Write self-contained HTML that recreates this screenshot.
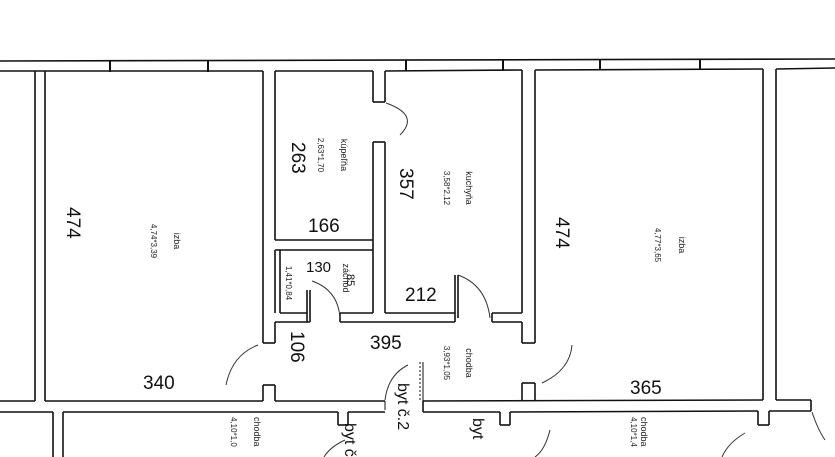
<!DOCTYPE html>
<html><head><meta charset="utf-8"><style>
html,body{margin:0;padding:0;background:#fff;}
svg{display:block}
.t{font-family:"Liberation Sans",sans-serif;fill:#222}
.h{font-family:"Liberation Sans",sans-serif;fill:#111}
</style></head><body>
<svg width="835" height="457" viewBox="0 0 835 457" xmlns="http://www.w3.org/2000/svg">
<g stroke="#111" stroke-width="1.6" fill="none">
<!-- top wall -->
<line x1="0" y1="61" x2="835" y2="59"/>
<line x1="0" y1="71" x2="263" y2="71"/>
<line x1="275" y1="71" x2="373" y2="71"/>
<line x1="385" y1="71" x2="522" y2="70"/>
<line x1="535" y1="70" x2="763" y2="69"/>
<line x1="776" y1="69" x2="835" y2="68"/>
<g stroke-width="2">
<line x1="110" y1="61" x2="110" y2="72"/><line x1="208" y1="61" x2="208" y2="72"/>
<line x1="406" y1="60" x2="406" y2="71"/><line x1="503" y1="60" x2="503" y2="71"/>
<line x1="600" y1="59" x2="600" y2="70"/><line x1="700" y1="59" x2="700" y2="70"/>
</g>
<!-- left strip walls -->
<line x1="35" y1="71" x2="35" y2="401"/>
<line x1="45" y1="71" x2="45" y2="401"/>
<line x1="0" y1="401" x2="35" y2="401"/>
<line x1="0" y1="412" x2="53" y2="412"/>
<line x1="53" y1="412" x2="53" y2="457"/>
<line x1="63" y1="412" x2="63" y2="457"/>
<!-- izba left -->
<line x1="45" y1="401" x2="263" y2="401"/>
<line x1="263" y1="71" x2="263" y2="343"/>
<line x1="275" y1="71" x2="275" y2="240"/>
<line x1="263" y1="343" x2="275" y2="343"/>
<line x1="275" y1="322" x2="275" y2="343"/>
<line x1="263" y1="385" x2="275" y2="385"/>
<line x1="263" y1="385" x2="263" y2="401"/>
<line x1="275" y1="385" x2="275" y2="401"/>
<!-- bath -->
<line x1="275" y1="240" x2="373" y2="240"/>
<line x1="275" y1="250" x2="373" y2="250"/>
<line x1="275" y1="250" x2="275" y2="313"/>
<line x1="280" y1="250" x2="280" y2="313"/>
<line x1="280" y1="313" x2="307" y2="313"/>
<line x1="275" y1="322" x2="310" y2="322"/>
<line x1="307" y1="290" x2="307" y2="322"/>
<line x1="310" y1="290" x2="310" y2="322"/>
<line x1="340" y1="313" x2="373" y2="313"/>
<line x1="340" y1="313" x2="340" y2="322"/>
<line x1="340" y1="322" x2="455" y2="322"/>
<line x1="373" y1="142" x2="373" y2="313"/>
<line x1="385" y1="142" x2="385" y2="313"/>
<line x1="373" y1="142" x2="385" y2="142"/>
<line x1="373" y1="71" x2="373" y2="102"/>
<line x1="385" y1="71" x2="385" y2="102"/>
<line x1="373" y1="102" x2="385" y2="102"/>
<line x1="385" y1="313" x2="455" y2="313"/>
<line x1="455" y1="275" x2="455" y2="322"/>
<line x1="458" y1="275" x2="458" y2="318"/>
<line x1="492" y1="313" x2="522" y2="313"/>
<line x1="492" y1="313" x2="492" y2="322"/>
<line x1="492" y1="322" x2="522" y2="322"/>
<!-- kitchen/izba wall -->
<line x1="522" y1="70" x2="522" y2="313"/>
<line x1="535" y1="70" x2="535" y2="343"/>
<line x1="522" y1="322" x2="522" y2="343"/>
<line x1="522" y1="343" x2="535" y2="343"/>
<line x1="522" y1="383" x2="535" y2="383"/>
<line x1="522" y1="383" x2="522" y2="401"/>
<line x1="535" y1="383" x2="535" y2="401"/>
<!-- right izba -->
<line x1="763" y1="69" x2="763" y2="400"/>
<line x1="776" y1="69" x2="776" y2="400"/>
<!-- bottom walls -->
<line x1="275" y1="401" x2="385" y2="401"/>
<line x1="423" y1="401" x2="763" y2="400"/>
<line x1="776" y1="400" x2="811" y2="400"/>
<line x1="811" y1="400" x2="811" y2="411"/>
<line x1="63" y1="412" x2="338" y2="412"/>
<line x1="348" y1="412" x2="385" y2="412"/>
<line x1="338" y1="412" x2="338" y2="425"/><line x1="348" y1="412" x2="348" y2="425"/><line x1="338" y1="425" x2="348" y2="425"/>
<line x1="423" y1="401" x2="423" y2="412"/>
<line x1="423" y1="412" x2="500" y2="412"/>
<line x1="510" y1="412" x2="758" y2="411"/>
<line x1="500" y1="412" x2="500" y2="425"/><line x1="510" y1="412" x2="510" y2="425"/><line x1="500" y1="425" x2="510" y2="425"/>
<line x1="769" y1="411" x2="811" y2="411"/>
<line x1="758" y1="411" x2="758" y2="425"/><line x1="769" y1="411" x2="769" y2="425"/><line x1="758" y1="425" x2="769" y2="425"/>
<line x1="385" y1="401" x2="385" y2="410" stroke-width="1"/>
<line x1="420" y1="362" x2="420" y2="401" stroke-dasharray="2 2" stroke-width="1"/>
<line x1="423" y1="362" x2="423" y2="401" stroke-width="1"/>
</g>
<!-- door arcs -->
<g stroke="#333" stroke-width="1" fill="none">
<path d="M386 103 Q420 115 400 135"/>
<path d="M312 281 Q338 290 340 318"/>
<path d="M458 275 Q486 285 490 318"/>
<path d="M258 345 Q232 355 226 385"/>
<path d="M408 365 Q388 375 385 400"/>
<path d="M572 345 Q570 370 542 383"/>
<path d="M550 430 Q545 450 535 457"/>
<path d="M345 440 Q330 447 324 457"/>
<path d="M745 433 Q728 443 722 457"/>
<path d="M812 412 Q818 430 825 440"/>
</g>
<!-- labels rotated 90deg clockwise -->
<g class="t" font-size="9">
<text transform="translate(174,241) rotate(90)" text-anchor="middle">izba</text>
<text transform="translate(151,241) rotate(90)" text-anchor="middle" font-size="8">4,74*3,39</text>
<text transform="translate(341,155) rotate(90)" text-anchor="middle">kúpeľňa</text>
<text transform="translate(318,155) rotate(90)" text-anchor="middle" font-size="8">2,63*1,70</text>
<text transform="translate(343,278) rotate(90)" text-anchor="middle">záchod</text>
<text transform="translate(286,283) rotate(90)" text-anchor="middle" font-size="8">1,41*0,84</text>
<text transform="translate(466,188) rotate(90)" text-anchor="middle">kuchyňa</text>
<text transform="translate(444,188) rotate(90)" text-anchor="middle" font-size="8">3,58*2,12</text>
<text transform="translate(679,245) rotate(90)" text-anchor="middle">izba</text>
<text transform="translate(655,245) rotate(90)" text-anchor="middle" font-size="8">4,77*3,65</text>
<text transform="translate(466,363) rotate(90)" text-anchor="middle">chodba</text>
<text transform="translate(444,363) rotate(90)" text-anchor="middle" font-size="8">3,93*1,05</text>
<text transform="translate(254,417) rotate(90)">chodba</text>
<text transform="translate(231,417) rotate(90)" font-size="8">4,10*1,0</text>
<text transform="translate(641,417) rotate(90)">chodba</text>
<text transform="translate(631,417) rotate(90)" font-size="8">4,10*1,4</text>
</g>
<g class="h" font-size="16">
<text transform="translate(398,383) rotate(90)">byt č.2</text>
<text transform="translate(345,423) rotate(90)">byt č</text>
<text transform="translate(473,418) rotate(90)">byt</text>
</g>
<g class="h" font-size="19">
<text transform="translate(67,207) rotate(90)">474</text>
<text transform="translate(556,217) rotate(90)">474</text>
<text transform="translate(400,168) rotate(90)">357</text>
<text transform="translate(292,142) rotate(90)">263</text>
<text transform="translate(291,331) rotate(90)">106</text>
<text x="308" y="232">166</text>
<text x="405" y="301">212</text>
<text x="370" y="349">395</text>
<text x="630" y="394">365</text>
<text x="143" y="389">340</text>
<text x="306" y="272" font-size="15">130</text>
<text transform="translate(347,274) rotate(90)" font-size="11">85</text>
</g>
</svg>
</body></html>
